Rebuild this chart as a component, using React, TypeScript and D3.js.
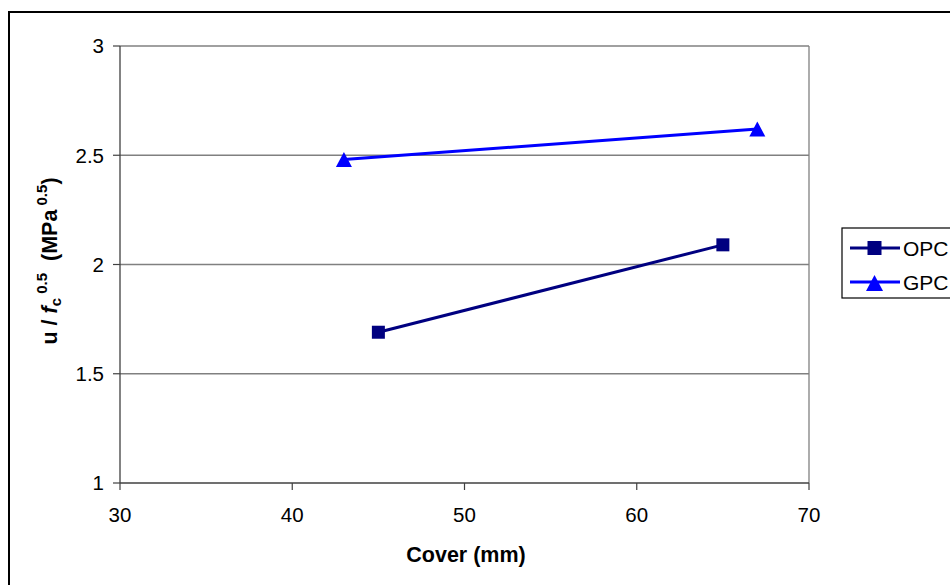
import React from "react";
import * as d3 from "d3";

const opcCover = [45, 65];
const opcValues = [1.69, 2.09];
const gpcCover = [43, 67];
const gpcValues = [2.48, 2.62];
const xTicks = [30, 40, 50, 60, 70];
const yTicks = [1, 1.5, 2, 2.5, 3];
const seriesNames = ["OPC", "GPC"];

const W = 950, H = 585;
const L = 120, R = 809, T = 46, B = 483;
const FONT = "'Liberation Sans', Arial, sans-serif";

function triPath(w: number, h: number) {
  const p = d3.path();
  p.moveTo(0, -h / 2);
  p.lineTo(w / 2, h / 2);
  p.lineTo(-w / 2, h / 2);
  p.closePath();
  return p.toString();
}

export default function App() {
  const x = d3.scaleLinear().domain([30, 70]).range([L, R]);
  const y = d3.scaleLinear().domain([1, 3]).range([B, T]);
  const line = d3.line<[number, number]>().x(d => x(d[0])).y(d => y(d[1]));
  const opc: [number, number][] = opcCover.map((c, i) => [c, opcValues[i]]);
  const gpc: [number, number][] = gpcCover.map((c, i) => [c, gpcValues[i]]);
  const tri = triPath(16, 15);
  const triL = triPath(17, 16);
  const opcColor = "#000080", gpcColor = "#0000FF";

  return (
    <svg width={W} height={H} style={{ position: "absolute", left: 0, top: 0, fontFamily: FONT }}>
      <rect x={0} y={0} width={W} height={H} fill="#fff" />
      <rect x={9} y={12} width={W + 20} height={H + 20} fill="none" stroke="#000" strokeWidth={2} />
      {/* gridlines */}
      {yTicks.filter(t => t !== 1).map(t => (
        <line key={t} x1={L} x2={R} y1={y(t)} y2={y(t)} stroke="#808080" strokeWidth={1.3} />
      ))}
      <line x1={R} x2={R} y1={T} y2={B} stroke="#808080" strokeWidth={1.3} />
      {/* axes */}
      <line x1={L} x2={L} y1={T} y2={B} stroke="#404040" strokeWidth={1.3} />
      <line x1={L} x2={R} y1={B} y2={B} stroke="#404040" strokeWidth={1.5} />
      {yTicks.map(t => (
        <g key={t}>
          <line x1={L - 7} x2={L} y1={y(t)} y2={y(t)} stroke="#404040" strokeWidth={1.2} />
          <text x={L - 16} y={y(t)} dy="0.36em" textAnchor="end" fontSize={20.5} fill="#000">{t}</text>
        </g>
      ))}
      {xTicks.map(t => (
        <g key={t}>
          <line x1={x(t)} x2={x(t)} y1={B} y2={B + 7} stroke="#404040" strokeWidth={1.2} />
          <text x={x(t)} y={B + 39} textAnchor="middle" fontSize={20.5} fill="#000">{t}</text>
        </g>
      ))}
      {/* series */}
      <path d={line(opc) || ""} fill="none" stroke={opcColor} strokeWidth={3} />
      {opc.map((d, i) => (
        <rect key={i} x={x(d[0]) - 6.5} y={y(d[1]) - 6.5} width={13} height={13} fill={opcColor} />
      ))}
      <path d={line(gpc) || ""} fill="none" stroke={gpcColor} strokeWidth={3} />
      {gpc.map((d, i) => (
        <path key={i} d={tri} transform={`translate(${x(d[0])},${y(d[1])})`} fill={gpcColor} />
      ))}
      {/* axis titles */}
      <text x={466} y={562} textAnchor="middle" fontSize={21.5} fontWeight="bold">Cover (mm)</text>
      <text transform={`translate(57,261) rotate(-90)`} textAnchor="middle" fontSize={21.5} fontWeight="bold" style={{ whiteSpace: "pre" }}>
        <tspan>u / </tspan>
        <tspan fontStyle="italic">f</tspan>
        <tspan fontSize={15} dy={4}>c</tspan>
        <tspan fontSize={15} dy={-14}> 0.5</tspan>
        <tspan dy={10}>  (MPa</tspan>
        <tspan fontSize={15} dy={-10}> 0.5</tspan>
        <tspan dy={10}>)</tspan>
      </text>
      {/* legend */}
      <rect x={842} y={228} width={130} height={70} fill="#fff" stroke="#000" strokeWidth={1.2} />
      {seriesNames.map((n, i) => {
        const ly = 248 + i * 34;
        const c = i === 0 ? opcColor : gpcColor;
        return (
          <g key={n}>
            <line x1={850} x2={900} y1={ly} y2={ly} stroke={c} strokeWidth={3} />
            {i === 0 ? (
              <rect x={867.5} y={ly - 7} width={14} height={14} fill={c} />
            ) : (
              <path d={triL} transform={`translate(874.5,${ly + 1})`} fill={c} />
            )}
            <text x={903} y={ly} dy="0.36em" fontSize={21} fill="#000">{n}</text>
          </g>
        );
      })}
    </svg>
  );
}
